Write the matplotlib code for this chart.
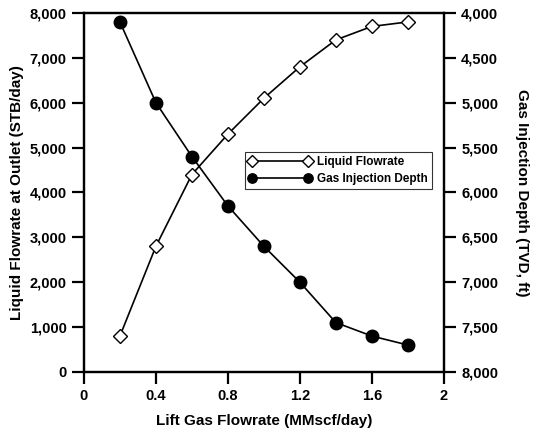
import matplotlib
matplotlib.use("Agg")
import matplotlib.pyplot as plt
from matplotlib.ticker import FuncFormatter

plt.rcParams['font.family'] = ['Liberation Sans', 'DejaVu Sans']
plt.rcParams['font.weight'] = 'bold'

gas_rate = [0.2, 0.4, 0.6, 0.8, 1.0, 1.2, 1.4, 1.6, 1.8]
liquid_flow = [800, 2800, 4400, 5300, 6100, 6800, 7400, 7700, 7800]
injection_depth = [4100, 5000, 5600, 6150, 6600, 7000, 7450, 7600, 7700]

x_ticks = [0, 0.4, 0.8, 1.2, 1.6, 2]
x_labels = ['0', '0.4', '0.8', '1.2', '1.6', '2']

fig = plt.figure(figsize=(5.38, 4.32), dpi=100)
ax = fig.add_axes([0.156, 0.139, 0.669, 0.831])
ax2 = ax.twinx()

l1, = ax.plot(gas_rate, liquid_flow, color='black', lw=1.2, marker='D',
              ms=7.5, mfc='white', mec='black', mew=1.0, label='Liquid Flowrate')
l2, = ax2.plot(gas_rate, injection_depth, color='black', lw=1.2, marker='o',
               ms=9, mfc='black', mec='black', label='Gas Injection Depth')

ax.set_xlim(0, 2)
ax.set_ylim(0, 8000)
ax2.set_ylim(8000, 4000)
ax.set_xticks(x_ticks)
ax.set_xticklabels(x_labels)
ax.set_yticks(range(0, 8001, 1000))
ax2.set_yticks(range(4000, 8001, 500))
fmt = FuncFormatter(lambda v, p: f'{int(v):,}')
ax.yaxis.set_major_formatter(fmt)
ax2.yaxis.set_major_formatter(fmt)

for a in (ax, ax2):
    for s in a.spines.values():
        s.set_linewidth(1.6)
    a.tick_params(direction='out', length=8.5, width=1.6, labelsize=10.5, pad=4)
    for lab in a.get_xticklabels() + a.get_yticklabels():
        lab.set_fontweight('bold')

ax.set_xlabel('Lift Gas Flowrate (MMscf/day)', fontsize=11, fontweight='bold', labelpad=8)
ax.set_ylabel('Liquid Flowrate at Outlet (STB/day)', fontsize=11, fontweight='bold', labelpad=4)
ax2.set_ylabel('Gas Injection Depth (TVD, ft)', fontsize=11, fontweight='bold',
               rotation=270, labelpad=22)

leg = ax.legend(handles=[l1, l2], loc='upper left', bbox_to_anchor=(0.447, 0.613),
                numpoints=2, frameon=True, fancybox=False, edgecolor='black',
                fontsize=8.5, handlelength=5.3, handletextpad=0.5, borderpad=0.35,
                labelspacing=0.45, markerscale=0.75, borderaxespad=0)
leg.get_frame().set_linewidth(0.8)
for t in leg.get_texts():
    t.set_fontweight('bold')

fig.savefig('out.png', dpi=100)
